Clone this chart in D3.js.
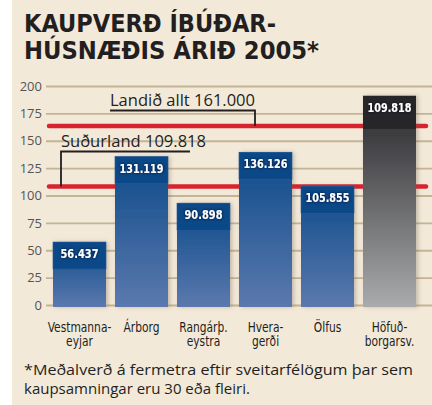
<!DOCTYPE html>
<html>
<head>
<meta charset="utf-8">
<script src="https://cdn.jsdelivr.net/npm/d3@7"></script>
<style>
  body { margin: 0; background: #fff; }
  svg text { font-family: "DejaVu Sans Condensed", "DejaVu Sans", sans-serif; }
</style>
</head>
<body>
<div id="container"></div>
<script>
/* DATA */
const categories = ["Vestmanna-eyjar", "Árborg", "Rangárþ.-eystra", "Hvera-gerði", "Ölfus", "Höfuð-borgarsv."];
const catLines = [["Vestmanna-", "eyjar"], ["Árborg"], ["Rangárþ.", "eystra"], ["Hvera-", "gerði"], ["Ölfus"], ["Höfuð-", "borgarsv."]];
// bar heights as drawn (thousand kr per m2)
const values = [57.5, 135.5, 93, 139.5, 108.5, 191];
const valueLabels = ["56.437", "131.119", "90.898", "136.126", "105.855", "109.818"];
const yTicks = [0, 25, 50, 75, 100, 125, 150, 175, 200];
const refValues = [163.5, 108.3];
const refLabels = ["Landið allt 161.000", "Suðurland 109.818"];
const title = ["KAUPVERÐ ÍBÚÐAR-", "HÚSNÆÐIS ÁRIÐ 2005*"];
const footnote = ["*Meðalverð á fermetra eftir sveitarfélögum þar sem", "kaupsamningar eru 30 eða fleiri."];

/* CONSTANTS */
const width = 432, height = 405;
const svg = d3.select("#container").append("svg")
  .attr("width", width).attr("height", height);

const xScale = d3.scaleBand()
  .domain(categories)
  .range([48.5, 420.5])
  .paddingInner(0.145)
  .paddingOuter(0.0725);

const yScale = d3.scaleLinear()
  .domain([0, 200])
  .range([305, 86]);

const defs = svg.append("defs");
const blueGrad = defs.append("linearGradient").attr("id", "blue").attr("x1", 0).attr("x2", 0).attr("y1", 0).attr("y2", 1);
blueGrad.append("stop").attr("offset", "0%").attr("stop-color", "#0d4a89");
blueGrad.append("stop").attr("offset", "100%").attr("stop-color", "#5b79ae");
const grayGrad = defs.append("linearGradient").attr("id", "gray").attr("x1", 0).attr("x2", 0).attr("y1", 0).attr("y2", 1);
grayGrad.append("stop").attr("offset", "0%").attr("stop-color", "#2e2e30");
grayGrad.append("stop").attr("offset", "18%").attr("stop-color", "#3d3d40");
grayGrad.append("stop").attr("offset", "100%").attr("stop-color", "#aaabad");

const barShadow = defs.append("filter").attr("id", "barShadow").attr("x", "-20%").attr("y", "-20%").attr("width", "140%").attr("height", "140%");
barShadow.append("feDropShadow").attr("dx", 2).attr("dy", 0).attr("stdDeviation", 2)
  .attr("flood-color", "#6b5a40").attr("flood-opacity", 0.35);
const lineShadow = defs.append("filter").attr("id", "lineShadow").attr("x", "-5%").attr("y", "-200%").attr("width", "110%").attr("height", "500%");
lineShadow.append("feGaussianBlur").attr("stdDeviation", 2.5);
const textShadow = defs.append("filter").attr("id", "textShadow").attr("x", "-30%").attr("y", "-60%").attr("width", "160%").attr("height", "220%");
textShadow.append("feDropShadow").attr("dx", 0).attr("dy", 0).attr("stdDeviation", 1.6)
  .attr("flood-color", "#000a20").attr("flood-opacity", 0.9);

/* BACKGROUND */
svg.append("rect").attr("x", 12).attr("y", 0).attr("width", width - 12).attr("height", height).attr("fill", "#f3e9d9");

/* TITLE */
svg.append("g").selectAll("text")
  .data(title)
  .join("text")
  .attr("x", 24)
  .attr("y", (d, i) => 32 + i * 26.5)
  .attr("textLength", (d, i) => i === 0 ? 252 : 295)
  .attr("lengthAdjust", "spacingAndGlyphs")
  .style("font-size", "25px")
  .style("font-weight", "bold")
  .attr("fill", "#231f20")
  .text(d => d);

/* GRID + Y AXIS */
const yAxis = d3.axisLeft(yScale).tickValues(yTicks).tickSize(-(width - 46)).tickPadding(4);
const yG = svg.append("g")
  .attr("transform", `translate(46, 0)`)
  .call(yAxis);
yG.select(".domain").remove();
yG.selectAll(".tick line").attr("stroke", "#c4b496").attr("stroke-width", 1.8);
yG.selectAll(".tick text")
  .attr("fill", "#555")
  .style("font-family", "'Open Sans', sans-serif")
  .style("font-size", "13px");

/* REFERENCE LINES */
const refG = svg.append("g");
refG.selectAll(".refshadow")
  .data(refValues)
  .join("line")
  .attr("class", "refshadow")
  .attr("x1", 50).attr("x2", 426)
  .attr("y1", d => yScale(d) + 4).attr("y2", d => yScale(d) + 4)
  .attr("stroke", "#8a7e6c").attr("stroke-opacity", 0.55).attr("stroke-width", 5)
  .attr("filter", "url(#lineShadow)");
refG.selectAll(".ref")
  .data(refValues)
  .join("line")
  .attr("class", "ref")
  .attr("x1", 49).attr("x2", 426)
  .attr("y1", d => yScale(d)).attr("y2", d => yScale(d))
  .attr("stroke", "#d8232f").attr("stroke-width", 4.5)
  .attr("stroke-linecap", "round");

/* ANNOTATIONS */
const annX = [110, 61];
const annEnd = [255, 190];
const annYText = [106, 147];
const annG = svg.append("g");
annG.selectAll("text")
  .data(refLabels)
  .join("text")
  .attr("x", (d, i) => annX[i])
  .attr("y", (d, i) => annYText[i])
  .attr("textLength", 145)
  .attr("lengthAdjust", "spacingAndGlyphs")
  .style("font-family", "'Open Sans', sans-serif")
  .style("font-size", "16px")
  .attr("fill", "#231f20")
  .text(d => d);
annG.selectAll("path")
  .data(refValues)
  .join("path")
  .attr("d", (d, i) => i === 0
    ? `M${annX[i]},${annYText[i] + 4.5}H${annEnd[i]}V${yScale(d)}`
    : `M${annEnd[i]},${annYText[i] + 4.5}H${annX[i]}V${yScale(d)}`)
  .attr("fill", "none")
  .attr("stroke", "#231f20")
  .attr("stroke-width", 1.8);

/* BARS */
const barG = svg.append("g");
barG.selectAll(".bar")
  .data(categories)
  .join("rect")
  .attr("class", "bar")
  .attr("x", d => xScale(d))
  .attr("y", (d, i) => yScale(values[i]))
  .attr("width", xScale.bandwidth())
  .attr("height", (d, i) => yScale(0) + 2 - yScale(values[i]))
  .attr("fill", (d, i) => i === 5 ? "url(#gray)" : "url(#blue)")
  .attr("filter", "url(#barShadow)");

barG.selectAll(".box")
  .data(categories)
  .join("rect")
  .attr("class", "box")
  .attr("x", d => xScale(d))
  .attr("y", (d, i) => yScale(values[i]))
  .attr("width", xScale.bandwidth())
  .attr("height", (d, i) => i === 5 ? 33 : 27)
  .attr("fill", (d, i) => i === 5 ? "#262628" : "#0b4887")
  .attr("stroke", (d, i) => i === 5 ? "none" : "#2a5d98")
  .attr("stroke-width", 0.6);

barG.selectAll(".val")
  .data(categories)
  .join("text")
  .attr("class", "val")
  .attr("x", d => xScale(d) + xScale.bandwidth() / 2)
  .attr("y", (d, i) => yScale(values[i]) + 16)
  .attr("text-anchor", "middle")
  .attr("textLength", (d, i) => valueLabels[i].length > 6 ? 44 : 38)
  .attr("lengthAdjust", "spacingAndGlyphs")
  .style("font-size", "13px")
  .style("font-weight", "bold")
  .attr("fill", "#fff")
  .attr("filter", "url(#textShadow)")
  .text((d, i) => valueLabels[i]);

/* X LABELS */
// condensed look: squeeze the glyphs horizontally
const xlab = svg.append("g").selectAll("g")
  .data(categories)
  .join("g")
  .attr("transform", d => `translate(${xScale(d) + xScale.bandwidth() / 2}, 0) scale(0.88, 1)`);
xlab.selectAll("text")
  .data((d, i) => catLines[i])
  .join("text")
  .attr("y", (d, j) => 332 + j * 14.5)
  .attr("text-anchor", "middle")
  .style("font-size", "13.5px")
  .attr("fill", "#231f20")
  .text(d => d);

/* FOOTNOTE */
svg.append("g").selectAll("text")
  .data(footnote)
  .join("text")
  .attr("x", 24)
  .attr("y", (d, i) => 375 + i * 18.5)
  .attr("textLength", (d, i) => i === 0 ? 389 : null)
  .attr("lengthAdjust", "spacingAndGlyphs")
  .style("font-family", "'Open Sans', sans-serif")
  .style("font-size", "15px")
  .attr("fill", "#231f20")
  .text(d => d);
</script>
</body>
</html>
